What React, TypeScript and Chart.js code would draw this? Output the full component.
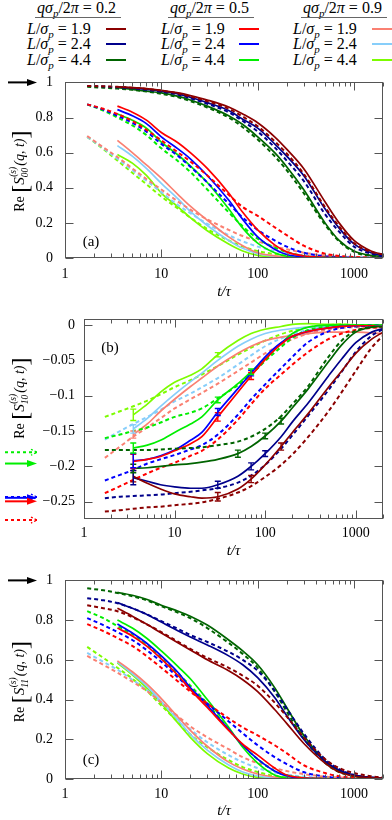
import React, { useEffect, useRef } from "react";
import { Chart, registerables } from "chart.js";
Chart.register(...registerables);

const FONT = '"Liberation Serif", "DejaVu Serif", serif';

// ---------- shared axis data ----------
const T = [1.7, 2.5, 3.5, 5, 7, 10, 15, 20, 30, 50, 70, 100, 150, 200, 300, 500, 700, 1000, 1500, 2000];
const X_TICKS = [1, 10, 100, 1000];
const Y_TICKS_A = [0, 0.2, 0.4, 0.6, 0.8, 1];
const Y_TICKS_B = [-0.25, -0.2, -0.15, -0.1, -0.05, 0];
const Y_TICKS_C = [0, 0.2, 0.4, 0.6, 0.8, 1];
const Q_VALUES = ["0.2", "0.5", "0.9"];
const L_VALUES = ["1.9", "2.4", "4.4"];
const COLORS = [
  ["#8b0000", "#00008b", "#006400"],
  ["#ff0000", "#0000ff", "#00ee00"],
  ["#fa8072", "#87cefa", "#7cfc00"],
];

// ---------- panel (a): Re S00 ----------
const A_sol_q02_L19 = [null, null, 0.975, 0.97, 0.965, 0.955, 0.94, 0.925, 0.9, 0.86, 0.82, 0.77, 0.69, 0.62, 0.51, 0.32, 0.2, 0.1, 0.04, 0.02];
const A_sol_q02_L24 = [null, null, 0.975, 0.968, 0.96, 0.95, 0.935, 0.915, 0.885, 0.84, 0.79, 0.74, 0.65, 0.58, 0.47, 0.28, 0.17, 0.08, 0.03, 0.015];
const A_sol_q02_L44 = [null, null, 0.97, 0.96, 0.95, 0.94, 0.92, 0.9, 0.865, 0.81, 0.76, 0.69, 0.6, 0.52, 0.39, 0.2, 0.1, 0.04, 0.015, 0.01];
const A_dash_q02_L19 = [0.98, 0.978, 0.975, 0.97, 0.963, 0.953, 0.937, 0.92, 0.893, 0.85, 0.805, 0.75, 0.665, 0.595, 0.48, 0.29, 0.18, 0.085, 0.035, 0.02];
const A_dash_q02_L24 = [0.98, 0.977, 0.972, 0.966, 0.958, 0.947, 0.93, 0.91, 0.878, 0.83, 0.78, 0.72, 0.63, 0.555, 0.44, 0.25, 0.15, 0.065, 0.025, 0.01];
const A_dash_q02_L44 = [0.975, 0.97, 0.965, 0.958, 0.948, 0.935, 0.915, 0.893, 0.857, 0.8, 0.745, 0.675, 0.58, 0.5, 0.37, 0.19, 0.095, 0.035, 0.012, 0.005];
const A_sol_q05_L19 = [null, null, 0.865, 0.83, 0.785, 0.715, 0.655, 0.6, 0.51, 0.37, 0.26, 0.16, 0.075, 0.035, 0.012, 0.004, 0.002, 0.001, 0, 0];
const A_sol_q05_L24 = [null, null, 0.845, 0.81, 0.765, 0.69, 0.62, 0.565, 0.47, 0.33, 0.22, 0.12, 0.05, 0.02, 0.006, 0.002, 0.001, 0, 0, 0];
const A_sol_q05_L44 = [null, null, 0.82, 0.785, 0.74, 0.66, 0.585, 0.525, 0.43, 0.28, 0.17, 0.085, 0.03, 0.01, 0.003, 0, 0, 0, 0, 0];
const A_dash_q05_L19 = [0.875, 0.85, 0.82, 0.78, 0.73, 0.67, 0.6, 0.55, 0.47, 0.36, 0.29, 0.24, 0.175, 0.13, 0.07, 0.025, 0.012, 0.005, 0.003, 0.002];
const A_dash_q05_L24 = [0.875, 0.845, 0.81, 0.77, 0.72, 0.65, 0.58, 0.52, 0.43, 0.31, 0.23, 0.16, 0.1, 0.065, 0.03, 0.01, 0.005, 0.002, 0.001, 0];
const A_dash_q05_L44 = [0.875, 0.84, 0.8, 0.755, 0.7, 0.625, 0.55, 0.49, 0.39, 0.26, 0.18, 0.11, 0.06, 0.035, 0.012, 0.004, 0.002, 0.001, 0, 0];
const A_sol_q09_L19 = [null, null, 0.67, 0.6, 0.53, 0.455, 0.36, 0.295, 0.215, 0.12, 0.07, 0.03, 0.012, 0.005, 0.002, 0, 0, 0, 0, 0];
const A_sol_q09_L24 = [null, null, 0.64, 0.58, 0.51, 0.425, 0.335, 0.265, 0.185, 0.1, 0.055, 0.025, 0.01, 0.004, 0.001, 0, 0, 0, 0, 0];
const A_sol_q09_L44 = [null, null, 0.59, 0.54, 0.47, 0.37, 0.29, 0.23, 0.155, 0.08, 0.04, 0.015, 0.005, 0.002, 0, 0, 0, 0, 0, 0];
const A_dash_q09_L19 = [0.695, 0.63, 0.575, 0.51, 0.45, 0.39, 0.32, 0.275, 0.22, 0.16, 0.125, 0.095, 0.065, 0.05, 0.03, 0.015, 0.01, 0.006, 0.004, 0.003];
const A_dash_q09_L24 = [0.69, 0.625, 0.565, 0.5, 0.44, 0.375, 0.3, 0.255, 0.195, 0.13, 0.095, 0.065, 0.04, 0.028, 0.015, 0.007, 0.004, 0.002, 0.001, 0];
const A_dash_q09_L44 = [0.69, 0.62, 0.555, 0.485, 0.42, 0.35, 0.28, 0.23, 0.165, 0.1, 0.065, 0.04, 0.022, 0.014, 0.006, 0.002, 0.001, 0, 0, 0];

// ---------- panel (b): Re S10 ----------
const B_sol_q02_L19 = [null, null, -0.214, -0.224, -0.232, -0.239, -0.243, -0.245, -0.243, -0.232, -0.218, -0.198, -0.172, -0.152, -0.125, -0.088, -0.065, -0.04, -0.02, -0.01];
const B_sol_q02_L24 = [null, null, -0.216, -0.221, -0.226, -0.229, -0.231, -0.231, -0.226, -0.214, -0.2, -0.182, -0.158, -0.137, -0.11, -0.072, -0.048, -0.025, -0.01, -0.005];
const B_sol_q02_L44 = [null, null, -0.203, -0.202, -0.2, -0.198, -0.196, -0.194, -0.19, -0.182, -0.172, -0.157, -0.136, -0.117, -0.09, -0.052, -0.028, -0.01, -0.003, -0.001];
const B_dash_q02_L19 = [-0.264, -0.262, -0.26, -0.258, -0.257, -0.255, -0.253, -0.251, -0.246, -0.237, -0.228, -0.215, -0.198, -0.183, -0.158, -0.122, -0.095, -0.065, -0.032, -0.015];
const B_dash_q02_L24 = [-0.245, -0.243, -0.242, -0.241, -0.24, -0.238, -0.236, -0.234, -0.231, -0.223, -0.213, -0.198, -0.175, -0.156, -0.128, -0.092, -0.066, -0.038, -0.015, -0.006];
const B_dash_q02_L44 = [-0.177, -0.177, -0.177, -0.177, -0.176, -0.175, -0.174, -0.173, -0.17, -0.165, -0.158, -0.147, -0.129, -0.112, -0.086, -0.045, -0.022, -0.008, -0.003, -0.002];
const B_sol_q05_L19 = [null, null, -0.193, -0.19, -0.186, -0.178, -0.168, -0.158, -0.13, -0.095, -0.072, -0.049, -0.027, -0.016, -0.009, -0.004, -0.002, -0.001, -0.001, -0.001];
const B_sol_q05_L24 = [null, null, -0.192, -0.19, -0.185, -0.177, -0.163, -0.152, -0.123, -0.09, -0.068, -0.045, -0.025, -0.016, -0.009, -0.004, -0.002, -0.001, -0.001, -0.001];
const B_sol_q05_L44 = [null, null, -0.174, -0.17, -0.163, -0.152, -0.14, -0.13, -0.106, -0.083, -0.066, -0.048, -0.026, -0.012, -0.003, 0, 0, 0, 0, 0];
const B_dash_q05_L19 = [-0.238, -0.228, -0.219, -0.21, -0.202, -0.195, -0.185, -0.178, -0.162, -0.134, -0.112, -0.09, -0.07, -0.056, -0.038, -0.02, -0.012, -0.007, -0.004, -0.003];
const B_dash_q05_L24 = [-0.22, -0.212, -0.205, -0.196, -0.19, -0.184, -0.176, -0.17, -0.155, -0.127, -0.105, -0.084, -0.061, -0.045, -0.024, -0.009, -0.004, -0.002, -0.001, -0.001];
const B_dash_q05_L44 = [-0.16, -0.155, -0.15, -0.145, -0.138, -0.13, -0.124, -0.118, -0.104, -0.085, -0.07, -0.051, -0.031, -0.018, -0.007, -0.002, 0, 0, 0, 0];
const B_sol_q09_L19 = [null, null, -0.155, -0.14, -0.122, -0.105, -0.087, -0.075, -0.058, -0.04, -0.03, -0.022, -0.017, -0.015, -0.012, -0.01, -0.01, -0.01, -0.011, -0.012];
const B_sol_q09_L24 = [null, null, -0.147, -0.132, -0.115, -0.098, -0.08, -0.068, -0.05, -0.03, -0.02, -0.012, -0.007, -0.005, -0.003, -0.002, -0.001, -0.001, -0.002, -0.003];
const B_sol_q09_L44 = [null, null, -0.127, -0.112, -0.095, -0.081, -0.071, -0.062, -0.042, -0.022, -0.012, -0.006, -0.002, 0.001, 0.002, 0.001, 0.001, 0, 0, 0];
const B_dash_q09_L19 = [-0.188, -0.172, -0.158, -0.145, -0.132, -0.118, -0.105, -0.096, -0.083, -0.065, -0.053, -0.04, -0.028, -0.02, -0.012, -0.006, -0.004, -0.003, -0.003, -0.003];
const B_dash_q09_L24 = [-0.162, -0.15, -0.14, -0.13, -0.12, -0.108, -0.097, -0.088, -0.075, -0.056, -0.043, -0.03, -0.019, -0.013, -0.007, -0.003, -0.002, -0.001, -0.001, -0.001];
const B_dash_q09_L44 = [-0.13, -0.122, -0.115, -0.107, -0.098, -0.088, -0.078, -0.07, -0.058, -0.042, -0.032, -0.022, -0.013, -0.008, -0.003, 0, 0.001, 0, 0, 0];

// error bars in (b): [index into T, half-width]
const B_err_q02_L19 = [[2, 0.008], [8, 0.006], [10, 0.005], [12, 0.005]];
const B_err_q02_L24 = [[2, 0.01], [8, 0.005], [10, 0.005], [11, 0.004]];
const B_err_q02_L44 = [[2, 0.006], [9, 0.005], [11, 0.004], [12, 0.004]];
const B_err_q05_L19 = [[2, 0.01], [8, 0.006], [10, 0.005]];
const B_err_q05_L24 = [[2, 0.01], [8, 0.005], [10, 0.004]];
const B_err_q05_L44 = [[2, 0.007], [8, 0.004], [10, 0.004]];
const B_err_q09_L19 = [[2, 0.005]];
const B_err_q09_L24 = [[2, 0.006]];
const B_err_q09_L44 = [[2, 0.008], [8, 0.003]];

// ---------- panel (c): Re S11 ----------
const C_sol_q02_L19 = [null, null, 0.86, 0.82, 0.78, 0.735, 0.685, 0.65, 0.6, 0.545, 0.5, 0.44, 0.35, 0.28, 0.18, 0.08, 0.035, 0.015, 0.006, 0.004];
const C_sol_q02_L24 = [null, null, 0.888, 0.86, 0.83, 0.79, 0.745, 0.715, 0.675, 0.62, 0.575, 0.51, 0.41, 0.32, 0.2, 0.09, 0.045, 0.02, 0.008, 0.005];
const C_sol_q02_L44 = [null, null, 0.94, 0.925, 0.905, 0.875, 0.845, 0.82, 0.775, 0.7, 0.645, 0.575, 0.46, 0.36, 0.22, 0.09, 0.04, 0.015, 0.006, 0.004];
const C_dash_q02_L19 = [0.875, 0.86, 0.845, 0.815, 0.78, 0.74, 0.69, 0.655, 0.61, 0.56, 0.52, 0.47, 0.385, 0.315, 0.21, 0.1, 0.055, 0.03, 0.014, 0.008];
const C_dash_q02_L24 = [0.91, 0.9, 0.885, 0.86, 0.83, 0.795, 0.755, 0.725, 0.69, 0.64, 0.6, 0.545, 0.445, 0.355, 0.23, 0.1, 0.05, 0.02, 0.008, 0.004];
const C_dash_q02_L44 = [0.96, 0.95, 0.937, 0.92, 0.9, 0.87, 0.837, 0.81, 0.76, 0.685, 0.63, 0.56, 0.44, 0.34, 0.205, 0.082, 0.035, 0.015, 0.006, 0.003];
const C_sol_q05_L19 = [null, null, 0.76, 0.72, 0.67, 0.605, 0.52, 0.45, 0.36, 0.245, 0.175, 0.12, 0.055, 0.02, 0.006, 0.002, 0, 0, 0, 0];
const C_sol_q05_L24 = [null, null, 0.78, 0.735, 0.685, 0.62, 0.535, 0.46, 0.37, 0.25, 0.17, 0.1, 0.04, 0.015, 0.004, 0.001, 0, 0, 0, 0];
const C_sol_q05_L44 = [null, null, 0.8, 0.76, 0.71, 0.645, 0.565, 0.505, 0.4, 0.26, 0.16, 0.08, 0.02, 0.005, 0.001, 0, 0, 0, 0, 0];
const C_dash_q05_L19 = [0.78, 0.745, 0.71, 0.67, 0.62, 0.56, 0.49, 0.44, 0.38, 0.305, 0.26, 0.22, 0.17, 0.13, 0.07, 0.03, 0.014, 0.006, 0.002, 0.001];
const C_dash_q05_L24 = [0.81, 0.775, 0.74, 0.7, 0.65, 0.59, 0.51, 0.455, 0.38, 0.29, 0.23, 0.17, 0.11, 0.075, 0.035, 0.012, 0.005, 0.002, 0.001, 0];
const C_dash_q05_L44 = [0.845, 0.81, 0.77, 0.73, 0.68, 0.61, 0.53, 0.47, 0.38, 0.25, 0.17, 0.1, 0.04, 0.018, 0.006, 0.002, 0, 0, 0, 0];
const C_sol_q09_L19 = [null, null, 0.595, 0.54, 0.48, 0.405, 0.31, 0.245, 0.165, 0.085, 0.05, 0.025, 0.01, 0.004, 0.001, 0, 0, 0, 0, 0];
const C_sol_q09_L24 = [null, null, 0.59, 0.53, 0.47, 0.39, 0.295, 0.225, 0.145, 0.07, 0.035, 0.015, 0.005, 0.002, 0, 0, 0, 0, 0, 0];
const C_sol_q09_L44 = [null, null, 0.585, 0.525, 0.46, 0.38, 0.28, 0.21, 0.128, 0.055, 0.025, 0.008, 0.002, 0, 0, 0, 0, 0, 0, 0];
const C_dash_q09_L19 = [0.62, 0.575, 0.535, 0.49, 0.445, 0.385, 0.315, 0.265, 0.21, 0.15, 0.11, 0.08, 0.055, 0.04, 0.025, 0.012, 0.008, 0.005, 0.003, 0.002];
const C_dash_q09_L24 = [0.635, 0.59, 0.55, 0.5, 0.45, 0.385, 0.305, 0.25, 0.185, 0.12, 0.085, 0.055, 0.033, 0.022, 0.012, 0.005, 0.003, 0.001, 0, 0];
const C_dash_q09_L44 = [0.665, 0.61, 0.56, 0.505, 0.445, 0.37, 0.285, 0.225, 0.16, 0.095, 0.06, 0.035, 0.015, 0.008, 0.003, 0.001, 0, 0, 0, 0];

// t -> 0 limits shown as arrows at the left of the panels
const A_ARROWS = [{ v: 1, color: "#000000", kind: "solid" }];
const B_ARROWS = [
  { v: -0.18, color: "#00ee00", kind: "dotted" },
  { v: -0.196, color: "#00ee00", kind: "solid" },
  { v: -0.2445, color: "#0000ff", kind: "solid" },
  { v: -0.2435, color: "#0000ff", kind: "dotted" },
  { v: -0.2495, color: "#ff0000", kind: "solid" },
  { v: -0.276, color: "#ff0000", kind: "dotted" },
];
const C_ARROWS = [{ v: 1, color: "#000000", kind: "solid" }];

// ---------- tables built from the arrays ----------
const A_SOLID = [[A_sol_q02_L19, A_sol_q02_L24, A_sol_q02_L44], [A_sol_q05_L19, A_sol_q05_L24, A_sol_q05_L44], [A_sol_q09_L19, A_sol_q09_L24, A_sol_q09_L44]];
const A_DASH = [[A_dash_q02_L19, A_dash_q02_L24, A_dash_q02_L44], [A_dash_q05_L19, A_dash_q05_L24, A_dash_q05_L44], [A_dash_q09_L19, A_dash_q09_L24, A_dash_q09_L44]];
const B_SOLID = [[B_sol_q02_L19, B_sol_q02_L24, B_sol_q02_L44], [B_sol_q05_L19, B_sol_q05_L24, B_sol_q05_L44], [B_sol_q09_L19, B_sol_q09_L24, B_sol_q09_L44]];
const B_DASH = [[B_dash_q02_L19, B_dash_q02_L24, B_dash_q02_L44], [B_dash_q05_L19, B_dash_q05_L24, B_dash_q05_L44], [B_dash_q09_L19, B_dash_q09_L24, B_dash_q09_L44]];
const B_ERR = [[B_err_q02_L19, B_err_q02_L24, B_err_q02_L44], [B_err_q05_L19, B_err_q05_L24, B_err_q05_L44], [B_err_q09_L19, B_err_q09_L24, B_err_q09_L44]];
const C_SOLID = [[C_sol_q02_L19, C_sol_q02_L24, C_sol_q02_L44], [C_sol_q05_L19, C_sol_q05_L24, C_sol_q05_L44], [C_sol_q09_L19, C_sol_q09_L24, C_sol_q09_L44]];
const C_DASH = [[C_dash_q02_L19, C_dash_q02_L24, C_dash_q02_L44], [C_dash_q05_L19, C_dash_q05_L24, C_dash_q05_L44], [C_dash_q09_L19, C_dash_q09_L24, C_dash_q09_L44]];

const toPts = (arr: (number | null)[]) =>
  T.map((t, i) => ({ x: t, y: arr[i] })).filter((p) => p.y !== null);

function buildDatasets(solid: any[][], dashed: any[][], errs?: any[][]) {
  const ds: any[] = [];
  for (let qi = 0; qi < 3; qi++) {
    for (let li = 0; li < 3; li++) {
      const color = COLORS[qi][li];
      const label = `qσp/2π = ${Q_VALUES[qi]}, L/σp = ${L_VALUES[li]}`;
      ds.push({
        label: label + " (dashed)",
        data: toPts(dashed[qi][li]),
        borderColor: color,
        backgroundColor: color,
        borderWidth: 2,
        borderDash: [4, 3],
        pointRadius: 0,
        cubicInterpolationMode: "monotone",
        fill: false,
      });
      ds.push({
        label,
        data: toPts(solid[qi][li]),
        borderColor: color,
        backgroundColor: color,
        borderWidth: 1.7,
        pointRadius: 0,
        cubicInterpolationMode: "monotone",
        fill: false,
        errorBars: errs ? errs[qi][li] : null,
      });
    }
  }
  return ds;
}

function drawYTitle(ctx: CanvasRenderingContext2D, cx: number, cy: number, sub: string) {
  const segs: any[] = [
    { t: "Re", f: `14px ${FONT}`, dy: 0 },
    { t: " ", f: `14px ${FONT}`, dy: 0 },
    { t: "[", f: `24px ${FONT}`, dy: 3.5 },
    { t: "S", f: `italic 15px ${FONT}`, dy: 0 },
    { stack: true, sup: "(s)", sub, f: `italic 9.5px ${FONT}` },
    { t: "(q, t)", f: `italic 14px ${FONT}`, dy: 0 },
    { t: "]", f: `24px ${FONT}`, dy: 3.5 },
  ];
  let total = 0;
  for (const s of segs) {
    ctx.font = s.f;
    s.w = s.stack ? Math.max(ctx.measureText(s.sup).width, ctx.measureText(s.sub).width) + 1.5 : ctx.measureText(s.t).width;
    total += s.w;
  }
  ctx.save();
  ctx.translate(cx, cy);
  ctx.rotate(-Math.PI / 2);
  ctx.fillStyle = "#000";
  ctx.textBaseline = "alphabetic";
  ctx.textAlign = "left";
  let x = -total / 2;
  const base = 5;
  for (const s of segs) {
    ctx.font = s.f;
    if (s.stack) {
      ctx.fillText(s.sup, x + 0.5, base - 8);
      ctx.fillText(s.sub, x, base + 4);
    } else {
      ctx.fillText(s.t, x, base + s.dy);
    }
    x += s.w;
  }
  ctx.restore();
}

const decorPlugin = {
  id: "decor",
  afterDatasetsDraw(chart: any, _args: any, opts: any) {
    const { ctx, chartArea: a } = chart;
    const xs = chart.scales.x;
    const ys = chart.scales.y;
    // error bars
    chart.data.datasets.forEach((d: any) => {
      if (!d.errorBars) return;
      ctx.save();
      ctx.strokeStyle = d.borderColor;
      ctx.lineWidth = 1.4;
      ctx.setLineDash([]);
      d.errorBars.forEach(([idx, h]: number[]) => {
        const p = d.data.find((pt: any) => pt.x === T[idx]);
        if (!p) return;
        const px = xs.getPixelForValue(p.x);
        const y1 = ys.getPixelForValue(p.y - h);
        const y2 = ys.getPixelForValue(p.y + h);
        ctx.beginPath();
        ctx.moveTo(px, y1); ctx.lineTo(px, y2);
        ctx.moveTo(px - 3, y1); ctx.lineTo(px + 3, y1);
        ctx.moveTo(px - 3, y2); ctx.lineTo(px + 3, y2);
        ctx.stroke();
      });
      ctx.restore();
    });
    // frame and inward ticks
    ctx.save();
    ctx.strokeStyle = "#555";
    ctx.lineWidth = 1;
    ctx.setLineDash([]);
    const L = Math.round(a.left) + 0.5, R = Math.round(a.right) - 0.5;
    const Tp = Math.round(a.top) + 0.5, B = Math.round(a.bottom) - 0.5;
    ctx.strokeRect(L, Tp, R - L, B - Tp);
    ctx.beginPath();
    for (let d = 1; d <= 1000; d *= 10) {
      for (let m = 1; m <= 9; m++) {
        const v = m * d;
        if (v > xs.max) continue;
        const px = Math.round(xs.getPixelForValue(v)) + 0.5;
        const len = m === 1 ? 8 : 4;
        ctx.moveTo(px, B); ctx.lineTo(px, B - len);
        ctx.moveTo(px, Tp); ctx.lineTo(px, Tp + len);
      }
    }
    (opts.yTicks || []).forEach((v: number) => {
      const py = Math.round(ys.getPixelForValue(v)) + 0.5;
      ctx.moveTo(L, py); ctx.lineTo(L + 8, py);
      ctx.moveTo(R, py); ctx.lineTo(R - 8, py);
    });
    ctx.stroke();
    ctx.restore();
  },
  afterDraw(chart: any, _args: any, opts: any) {
    const { ctx, chartArea: a } = chart;
    const ys = chart.scales.y;
    // panel label
    ctx.save();
    ctx.fillStyle = "#000";
    ctx.font = `15px ${FONT}`;
    ctx.textAlign = "center";
    ctx.textBaseline = "middle";
    const ly = opts.labelFromTop ? a.top + opts.labelDy : a.bottom - opts.labelDy;
    ctx.fillText(opts.label, a.left + 26, ly);
    ctx.restore();
    // arrows
    (opts.arrows || []).forEach((ar: any) => {
      const y = ys.getPixelForValue(ar.v);
      const x0 = opts.arrowX0, x1 = 37;
      ctx.save();
      ctx.strokeStyle = ar.color;
      ctx.fillStyle = ar.color;
      ctx.lineWidth = 2;
      if (ar.kind === "solid") {
        ctx.beginPath();
        ctx.moveTo(x0, y); ctx.lineTo(x1 - 6, y);
        ctx.stroke();
        ctx.beginPath();
        ctx.moveTo(x1, y); ctx.lineTo(x1 - 10, y - 3.5); ctx.lineTo(x1 - 10, y + 3.5);
        ctx.closePath();
        ctx.fill();
      } else {
        ctx.setLineDash([3, 3]);
        ctx.beginPath();
        ctx.moveTo(x0, y); ctx.lineTo(x1, y);
        ctx.stroke();
        ctx.setLineDash([2, 2]);
        ctx.lineWidth = 1.3;
        ctx.beginPath();
        ctx.moveTo(x1 - 6, y - 3); ctx.lineTo(x1, y); ctx.lineTo(x1 - 6, y + 3);
        ctx.stroke();
      }
      ctx.restore();
    });
    // y-axis title
    drawYTitle(ctx, 19, (a.top + a.bottom) / 2 + opts.titleDy, opts.sub);
  },
};

const fmtY = (v: number) => {
  const r = Math.round(v * 1000) / 1000;
  if (r === 0) return "0";
  return String(r).replace("-", "\u2212");
};

function makeConfig(p: any): any {
  return {
    type: "line",
    data: { datasets: p.datasets },
    plugins: [decorPlugin],
    options: {
      animation: false,
      responsive: false,
      devicePixelRatio: 1,
      layout: { padding: { top: p.padTop, right: 9, left: 0, bottom: 0 } },
      plugins: {
        legend: { display: false },
        tooltip: { enabled: false },
        decor: {
          yTicks: p.yTicks,
          label: p.label,
          labelFromTop: p.labelFromTop,
          labelDy: p.labelDy,
          arrows: p.arrows,
          arrowX0: p.arrowX0,
          sub: p.sub,
          titleDy: p.titleDy,
        },
      },
      scales: {
        x: {
          type: "logarithmic",
          min: 1,
          max: 2000,
          grid: { display: false, drawTicks: false },
          border: { display: false },
          afterBuildTicks: (s: any) => {
            s.ticks = X_TICKS.map((v) => ({ value: v, major: true }));
          },
          afterFit: (s: any) => {
            s.height = p.xHeight;
          },
          ticks: {
            autoSkip: false,
            maxRotation: 0,
            padding: p.xPad,
            color: "#000",
            font: { family: FONT, size: 14 },
            callback: (v: number) => String(v),
          },
          title: {
            display: true,
            text: "t/τ",
            color: "#000",
            font: { family: FONT, size: 15, style: "italic" },
            padding: { top: 0, bottom: p.xTitlePad },
          },
        },
        y: {
          type: "linear",
          min: p.yMin,
          max: p.yMax,
          grid: { display: false, drawTicks: false },
          border: { display: false },
          afterBuildTicks: (s: any) => {
            s.ticks = p.yTicks.map((v: number) => ({ value: v }));
          },
          afterFit: (s: any) => {
            s.width = p.yWidth;
          },
          ticks: {
            padding: p.yPad,
            color: "#000",
            font: { family: FONT, size: 14 },
            callback: (v: number) => fmtY(v),
          },
        },
      },
    },
  };
}

const PANELS = [
  {
    top: 62, height: 240,
    cfg: () => makeConfig({
      datasets: buildDatasets(A_SOLID, A_DASH),
      yMin: 0, yMax: 1, yTicks: Y_TICKS_A, yWidth: 65, xHeight: 44, padTop: 16,
      yPad: 12, xPad: 8, xTitlePad: 1, label: "(a)", labelFromTop: false, labelDy: 16,
      arrows: A_ARROWS, arrowX0: 8, sub: "00", titleDy: 1,
    }),
  },
  {
    top: 302, height: 258,
    cfg: () => makeConfig({
      datasets: buildDatasets(B_SOLID, B_DASH, B_ERR),
      yMin: -0.2745, yMax: 0.008, yTicks: Y_TICKS_B, yWidth: 84, xHeight: 41, padTop: 17,
      yPad: 9, xPad: 6, xTitlePad: 0, label: "(b)", labelFromTop: true, labelDy: 29,
      arrows: B_ARROWS, arrowX0: 5, sub: "10", titleDy: -21,
    }),
  },
  {
    top: 560, height: 260,
    cfg: () => makeConfig({
      datasets: buildDatasets(C_SOLID, C_DASH),
      yMin: 0, yMax: 1, yTicks: Y_TICKS_C, yWidth: 65, xHeight: 41, padTop: 19,
      yPad: 12, xPad: 7, xTitlePad: 0, label: "(c)", labelFromTop: false, labelDy: 19,
      arrows: C_ARROWS, arrowX0: 8, sub: "11", titleDy: 2,
    }),
  },
];

function Panel({ top, height, cfg }: { top: number; height: number; cfg: () => any }) {
  const ref = useRef<HTMLCanvasElement>(null);
  useEffect(() => {
    const chart = new Chart(ref.current as HTMLCanvasElement, cfg());
    return () => chart.destroy();
  }, []);
  return (
    <canvas
      ref={ref}
      width={392}
      height={height}
      style={{ position: "absolute", left: 0, top, width: 392, height, display: "block" }}
    />
  );
}

const I = ({ children }: { children: any }) => <span style={{ fontStyle: "italic" }}>{children}</span>;
const Sub = ({ children }: { children: any }) => (
  <span style={{ fontStyle: "italic", fontSize: 11, position: "relative", top: 4 }}>{children}</span>
);

const LEG_HEAD_X = [37, 170, 303];
const LEG_ROW_X = [27, 161, 293];
const LEG_LINE_X = [106, 239, 372];
const LEG_ROW_Y = [29, 44, 60];

function Legend() {
  const base: any = { position: "absolute", fontFamily: FONT, fontSize: 16, lineHeight: "18px", whiteSpace: "nowrap", color: "#000" };
  const items: any[] = [];
  for (let qi = 0; qi < 3; qi++) {
    items.push(
      <div key={`h${qi}`} style={{ ...base, left: LEG_HEAD_X[qi], top: -1 }}>
        <I>q</I><I>σ</I><Sub>p</Sub>/2<I>π</I> = {Q_VALUES[qi]}
      </div>
    );
    items.push(
      <div key={`u${qi}`} style={{ position: "absolute", left: LEG_HEAD_X[qi] - 2, top: 17, width: 86, height: 1, background: "#666" }} />
    );
    for (let li = 0; li < 3; li++) {
      items.push(
        <div key={`r${qi}${li}`} style={{ ...base, left: LEG_ROW_X[qi], top: LEG_ROW_Y[li] - 9 }}>
          <I>L</I>/<I>σ</I><Sub>p</Sub> = {L_VALUES[li]}
        </div>
      );
      items.push(
        <div key={`l${qi}${li}`} style={{ position: "absolute", left: LEG_LINE_X[qi], top: LEG_ROW_Y[li] - 1, width: 20, height: 2, background: COLORS[qi][li] }} />
      );
    }
  }
  return <>{items}</>;
}

export default function App() {
  return (
    <div style={{ position: "absolute", left: 0, top: 0, width: 392, height: 820, background: "#fff", overflow: "hidden" }}>
      <Legend />
      {PANELS.map((p, i) => (
        <Panel key={i} top={p.top} height={p.height} cfg={p.cfg} />
      ))}
    </div>
  );
}
